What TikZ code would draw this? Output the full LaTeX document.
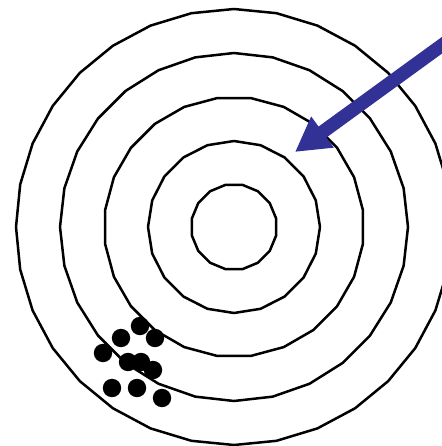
\documentclass[tikz,border=0pt]{standalone}
\usepackage{tikz}
\usetikzlibrary{arrows.meta}
\definecolor{arrowblue}{RGB}{50,50,150}

\begin{document}
\begin{tikzpicture}[
  x=1pt, y=-1pt,
  ring/.style={draw=black, line width=2.5pt, line join=round},
  shot/.style={fill=black},
  bluearrow/.style={draw=arrowblue, line width=13.5pt, -{Triangle[length=34pt, width=36pt]}},
]
\useasboundingbox (0,0) rectangle (441,446);

% target rings: radius / sides / rotation
\begin{scope}[shift={(234,227)}]
\foreach \r/\n/\o in {218/32/0, 174/28/0, 130/24/7.5, 86/20/0, 43/16/11.25}{
  \draw[ring] (\o:\r) \foreach \k in {1,...,\n}{ -- ({\o+\k*360/\n}:\r) } -- cycle;
}
\end{scope}

% shots
\foreach \x/\y in {140/326, 121/338, 155/338, 103/353, 128/362, 141/362, 153/370, 112/388, 137/388, 162/398}{
  \fill[shot] (\x,\y) circle[radius=9.2];
}

% arrow
\coordinate (arrow-tail) at (447,41.6);
\coordinate (arrow-tip) at (295,152);
\draw[bluearrow] (arrow-tail) -- (arrow-tip);

\end{tikzpicture}
\end{document}
